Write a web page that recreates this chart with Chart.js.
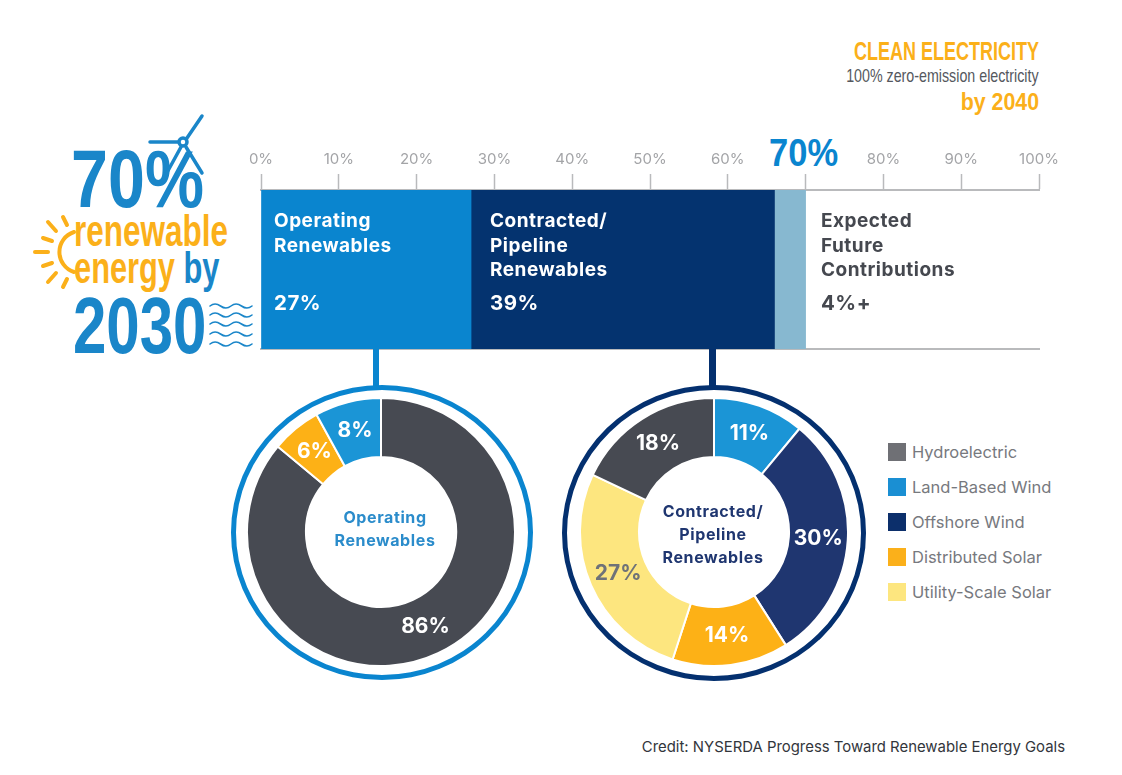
<!DOCTYPE html>
<html>
<head>
<meta charset="utf-8">
<script src="https://cdn.jsdelivr.net/npm/chart.js@4"></script>
<style>
    html, body { margin: 0; padding: 0; background: #fff; }
    #page { position: relative; width: 1122px; height: 775px; overflow: hidden; font-family: Inter, "Open Sans", sans-serif; }
    #page > * { position: absolute; }
    .txt { white-space: nowrap; line-height: 1; }
    .narrow { font-family: "Liberation Sans", sans-serif; font-weight: 700; transform-origin: left top; }
    .right { transform-origin: right top; text-align: right; }
    .barLabel { font-weight: 700; font-size: 19px; line-height: 24.5px; letter-spacing: 0.5px; white-space: nowrap; }
    .barValue { font-size: 20.5px; }
    .centerLabel { font-weight: 700; font-size: 16px; line-height: 23px; letter-spacing: 0.6px; text-align: center; white-space: nowrap; transform: translate(-50%, -50%); }
    .ring { border-radius: 50%; box-sizing: border-box; }
    .legendItem { display: flex; align-items: center; height: 18px; font-size: 16.5px; color: #77797e; white-space: nowrap; }
    .legendItem i { display: block; width: 18px; height: 18px; margin-right: 6px; }
</style>
</head>
<body>
<div id="page">
    <div class="txt narrow right" style="right:83px; top:39px; font-size:25px; color:#fbb01a; transform:scaleX(0.72)">CLEAN ELECTRICITY</div>
    <div class="txt narrow right" style="right:83px; top:66px; font-size:19px; font-weight:400; color:#55585e; transform:scaleX(0.75)">100% zero-emission electricity</div>
    <div class="txt narrow right" style="right:83px; top:90px; font-size:24px; color:#fbb01a; transform:scaleX(0.89)">by 2040</div>

    <div class="txt narrow" style="left:71px; top:138px; font-size:82px; color:#1a86c9; transform:scaleX(0.81)">70%</div>
    <div class="txt narrow" style="left:74px; top:209px; font-size:44px; color:#fbb01a; transform:scaleX(0.716)">renewable</div>
    <div class="txt narrow" style="left:74px; top:246px; font-size:44px; color:#fbb01a; transform:scaleX(0.7)">energy <span style="color:#1a86c9">by</span></div>
    <div class="txt narrow" style="left:73px; top:286px; font-size:80px; color:#1a86c9; transform:scaleX(0.75)">2030</div>
    <div class="txt narrow" style="left:769px; top:133px; font-size:39px; color:#0a85cf; transform:scaleX(0.885)">70%</div>

    <!-- turbine, sun and waves icons -->
    <svg style="left:0; top:0" width="300" height="360" fill="none" stroke-linecap="round">
        <g stroke="#1a86c9" stroke-width="3.5">
            <circle cx="183" cy="142" r="4"/>
            <line x1="187" y1="138" x2="202" y2="116"/>
            <line x1="178" y1="142" x2="150" y2="142"/>
            <line x1="186" y1="147" x2="202" y2="173"/>
            <line x1="181" y1="147" x2="164" y2="178"/>
        </g>
        <g stroke="#fbb01a" stroke-width="4">
            <path d="M74 232 A 21 21 0 0 0 74 272"/>
            <line x1="35" y1="252" x2="48" y2="252"/>
            <line x1="43" y1="238" x2="52" y2="241"/>
            <line x1="43" y1="266" x2="52" y2="263"/>
            <line x1="48" y1="222" x2="56" y2="231"/>
            <line x1="48" y1="282" x2="56" y2="273"/>
            <line x1="63" y1="217" x2="67" y2="225"/>
            <line x1="63" y1="287" x2="67" y2="279"/>
        </g>
        <g stroke="#1a86c9" stroke-width="1.6">
            <path d="M210 306 q5 -4 10.500 0 t10.500 0 t10.500 0 t10.500 0"/>
            <path d="M210 315 q5 -4 10.500 0 t10.500 0 t10.500 0 t10.500 0"/>
            <path d="M210 324 q5 -4 10.500 0 t10.500 0 t10.500 0 t10.500 0"/>
            <path d="M210 334 q5 -4 10.500 0 t10.500 0 t10.500 0 t10.500 0"/>
            <path d="M210 344 q5 -4 10.500 0 t10.500 0 t10.500 0 t10.500 0"/>
        </g>
    </svg>

    <div style="left:0; top:144px; width:1122px; height:216px"><canvas id="barChart"></canvas></div>

    <div style="left:373px; top:349px; width:6px; height:38px; background:#0a85cf"></div>
    <div style="left:709px; top:349px; width:7px; height:38px; background:#04306f"></div>
    <div class="ring" style="left:231px; top:385px; width:302px; height:295px; border:5px solid #0a85cf"></div>
    <div class="ring" style="left:562px; top:385px; width:304px; height:296px; border:5px solid #04306f"></div>

    <div style="left:246px; top:397px; width:270px; height:270px"><canvas id="operatingChart"></canvas></div>
    <div style="left:579px; top:397px; width:270px; height:270px"><canvas id="pipelineChart"></canvas></div>

    <div class="barLabel" style="left:274px; top:209px; color:#fff">Operating<br>Renewables</div>
    <div class="barLabel barValue" style="left:274px; top:291px; color:#fff">27%</div>
    <div class="barLabel" style="left:490px; top:209px; color:#fff">Contracted/<br>Pipeline<br>Renewables</div>
    <div class="barLabel barValue" style="left:490px; top:291px; color:#fff">39%</div>
    <div class="barLabel" style="left:821px; top:209px; color:#45484f">Expected<br>Future<br>Contributions</div>
    <div class="barLabel barValue" style="left:821px; top:291px; color:#45484f">4%+</div>

    <div class="centerLabel" style="left:385px; top:529px; color:#2b8ccb">Operating<br>Renewables</div>
    <div class="centerLabel" style="left:713px; top:534px; color:#1f3670">Contracted/<br>Pipeline<br>Renewables</div>

    <div id="legend" style="left:888px; top:443px"></div>

    <div class="txt" style="right:57px; top:740px; font-size:14.9px; color:#33363c">Credit: NYSERDA Progress Toward Renewable Energy Goals</div>
</div>

<script>
// Progress bar
const barNames = ['Operating Renewables', 'Contracted/Pipeline Renewables', 'Expected Future Contributions'];
const barValues = [27, 39, 4];
const barColors = ['#0a85cf', '#04336f', '#87b8d0'];
const axisTicks = [0, 10, 20, 30, 40, 50, 60, 70, 80, 90, 100];

// Donuts
const sources = ['Hydroelectric', 'Land-Based Wind', 'Offshore Wind', 'Distributed Solar', 'Utility-Scale Solar'];
const sourceColors = ['#6f7075', '#1a8fd3', '#0c2f6b', '#fbb01a', '#fde67f'];
const operatingValues = [86, 6, 8];
const operatingColors = ['#474a52', '#fdb116', '#1b95d6'];
const pipelineValues = [11, 30, 14, 27, 18];
const pipelineColors = ['#1b95d6', '#1f3670', '#fdb116', '#fde67f', '#474a52'];
const pipelineLabelColors = ['#fff', '#fff', '#fff', '#6f7278', '#fff'];

// Writes the percentages on top of each slice
const sliceLabels = {
    id: 'sliceLabels',
    afterDatasetsDraw(chart) {
        const ctx = chart.ctx;
        const dataset = chart.data.datasets[0];
        ctx.save();
        ctx.font = '700 21px Inter, sans-serif';
        ctx.textAlign = 'center';
        ctx.textBaseline = 'middle';
        chart.getDatasetMeta(0).data.forEach((arc, i) => {
            const p = arc.getCenterPoint();
            ctx.fillStyle = dataset.labelColors ? dataset.labelColors[i] : '#fff';
            ctx.fillText(dataset.data[i] + '%', p.x, p.y);
        });
        ctx.restore();
    }
};

function createDonut(id, values, colors, labelColors) {
    return new Chart(document.getElementById(id), {
        type: 'doughnut',
        data: {
            datasets: [{
                data: values,
                backgroundColor: colors,
                borderColor: '#fff',
                borderWidth: 2,
                labelColors: labelColors
            }]
        },
        options: {
            responsive: true,
            maintainAspectRatio: false,
            animation: false,
            cutout: '56%',
            plugins: { legend: { display: false }, tooltip: { enabled: false } }
        },
        plugins: [sliceLabels]
    });
}

new Chart(document.getElementById('barChart'), {
    type: 'bar',
    data: {
        labels: ['Progress'],
        datasets: barNames.map((name, i) => ({
            label: name,
            data: [barValues[i]],
            backgroundColor: barColors[i],
            barPercentage: 1,
            categoryPercentage: 1
        }))
    },
    options: {
        indexAxis: 'y',
        responsive: true,
        maintainAspectRatio: false,
        animation: false,
        layout: { padding: { left: 261, right: 83, top: 0, bottom: 3 } },
        scales: {
            x: {
                position: 'top',
                stacked: true,
                min: 0,
                max: 100,
                afterBuildTicks: axis => { axis.ticks = axisTicks.map(value => ({ value })); },
                border: { color: '#b9babc', width: 2 },
                grid: { drawOnChartArea: false, drawTicks: true, tickLength: 16, tickColor: '#b9babc', tickWidth: 1.5 },
                ticks: {
                    padding: 6,
                    maxRotation: 0,
                    // the big 70% is written separately above
                    callback: value => value === 70 ? '' : value + '%',
                    color: '#a3a4a7',
                    font: { family: 'Inter, sans-serif', size: 15 }
                }
            },
            xBottom: {
                position: 'bottom',
                min: 0,
                max: 100,
                border: { color: '#b9babc', width: 2 },
                grid: { display: false },
                ticks: { display: false }
            },
            y: { stacked: true, display: false }
        },
        plugins: { legend: { display: false }, tooltip: { enabled: false } }
    }
});

createDonut('operatingChart', operatingValues, operatingColors);
createDonut('pipelineChart', pipelineValues, pipelineColors, pipelineLabelColors);

// Legend
const legend = document.getElementById('legend');
sources.forEach((name, i) => {
    const item = document.createElement('div');
    item.className = 'legendItem';
    item.style.marginBottom = '17px';
    item.innerHTML = `<i style="background:${sourceColors[i]}"></i>${name}`;
    legend.appendChild(item);
});
</script>
</body>
</html>
